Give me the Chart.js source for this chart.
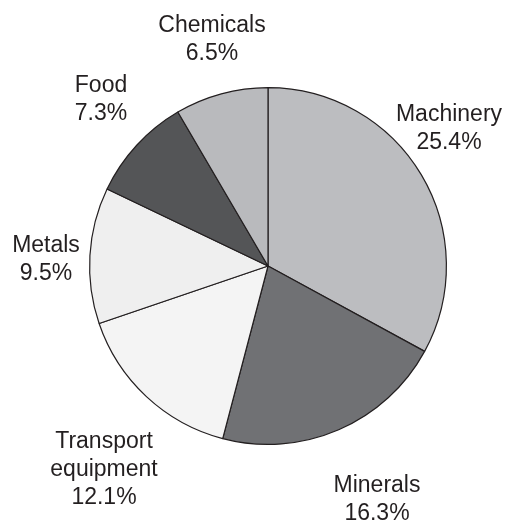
<!DOCTYPE html>
<html lang="en">
<head>
  <meta charset="UTF-8">
  <title>Exports by Sector</title>
  <script src="https://cdn.jsdelivr.net/npm/chart.js"></script>
  <style>
    html, body { margin: 0; padding: 0; background: #fff; }
    #wrap { width: 508px; height: 521px; }
  </style>
</head>
<body>

<div id="wrap">
  <canvas id="sectorChart" width="508" height="521"></canvas>
</div>

<script>
  // sectors, clockwise from 12 o'clock
  const sectors = ["Machinery", "Minerals", "Transport equipment", "Metals", "Food", "Chemicals"];
  const shares = [25.4, 16.3, 12.1, 9.5, 7.3, 6.5];
  const labelLines = [
    ["Machinery"],
    ["Minerals"],
    ["Transport", "equipment"],
    ["Metals"],
    ["Food"],
    ["Chemicals"]
  ];

  const fills = ["#bcbdc0", "#707174", "#f4f4f4", "#efefef", "#545557", "#b9babd"];

  // where each label's first baseline sits, relative to the pie centre
  const labelAt = [
    [181, -145],
    [109, 226],
    [-164, 182],
    [-222, -14],
    [-167, -174],
    [-56, -234]
  ];

  const outsideLabels = {
    id: "outsideLabels",
    afterDatasetsDraw(chart) {
      const ctx = chart.ctx;
      const arcs = chart.getDatasetMeta(0).data;
      ctx.save();
      ctx.font = "23px 'Liberation Sans', Arial, sans-serif";
      ctx.fillStyle = "#231f20";
      ctx.textAlign = "center";
      ctx.textBaseline = "alphabetic";
      arcs.forEach((arc, i) => {
        const lines = labelLines[i].concat([shares[i].toFixed(1) + "%"]);
        const x = arc.x + labelAt[i][0];
        let y = arc.y + labelAt[i][1];
        lines.forEach(t => {
          ctx.fillText(t, x, y);
          y += 28;
        });
      });
      ctx.restore();
    }
  };

  new Chart(document.getElementById("sectorChart"), {
    type: "pie",
    data: {
      labels: sectors,
      datasets: [{
        data: shares,
        backgroundColor: fills,
        borderColor: "#231f20",
        borderWidth: 1.2,
        hoverOffset: 0
      }]
    },
    options: {
      responsive: false,
      animation: false,
      layout: {
        padding: { left: 89, right: 61, top: 87, bottom: 76 }
      },
      plugins: {
        legend: { display: false },
        tooltip: { enabled: false }
      }
    },
    plugins: [outsideLabels]
  });
</script>

</body>
</html>
